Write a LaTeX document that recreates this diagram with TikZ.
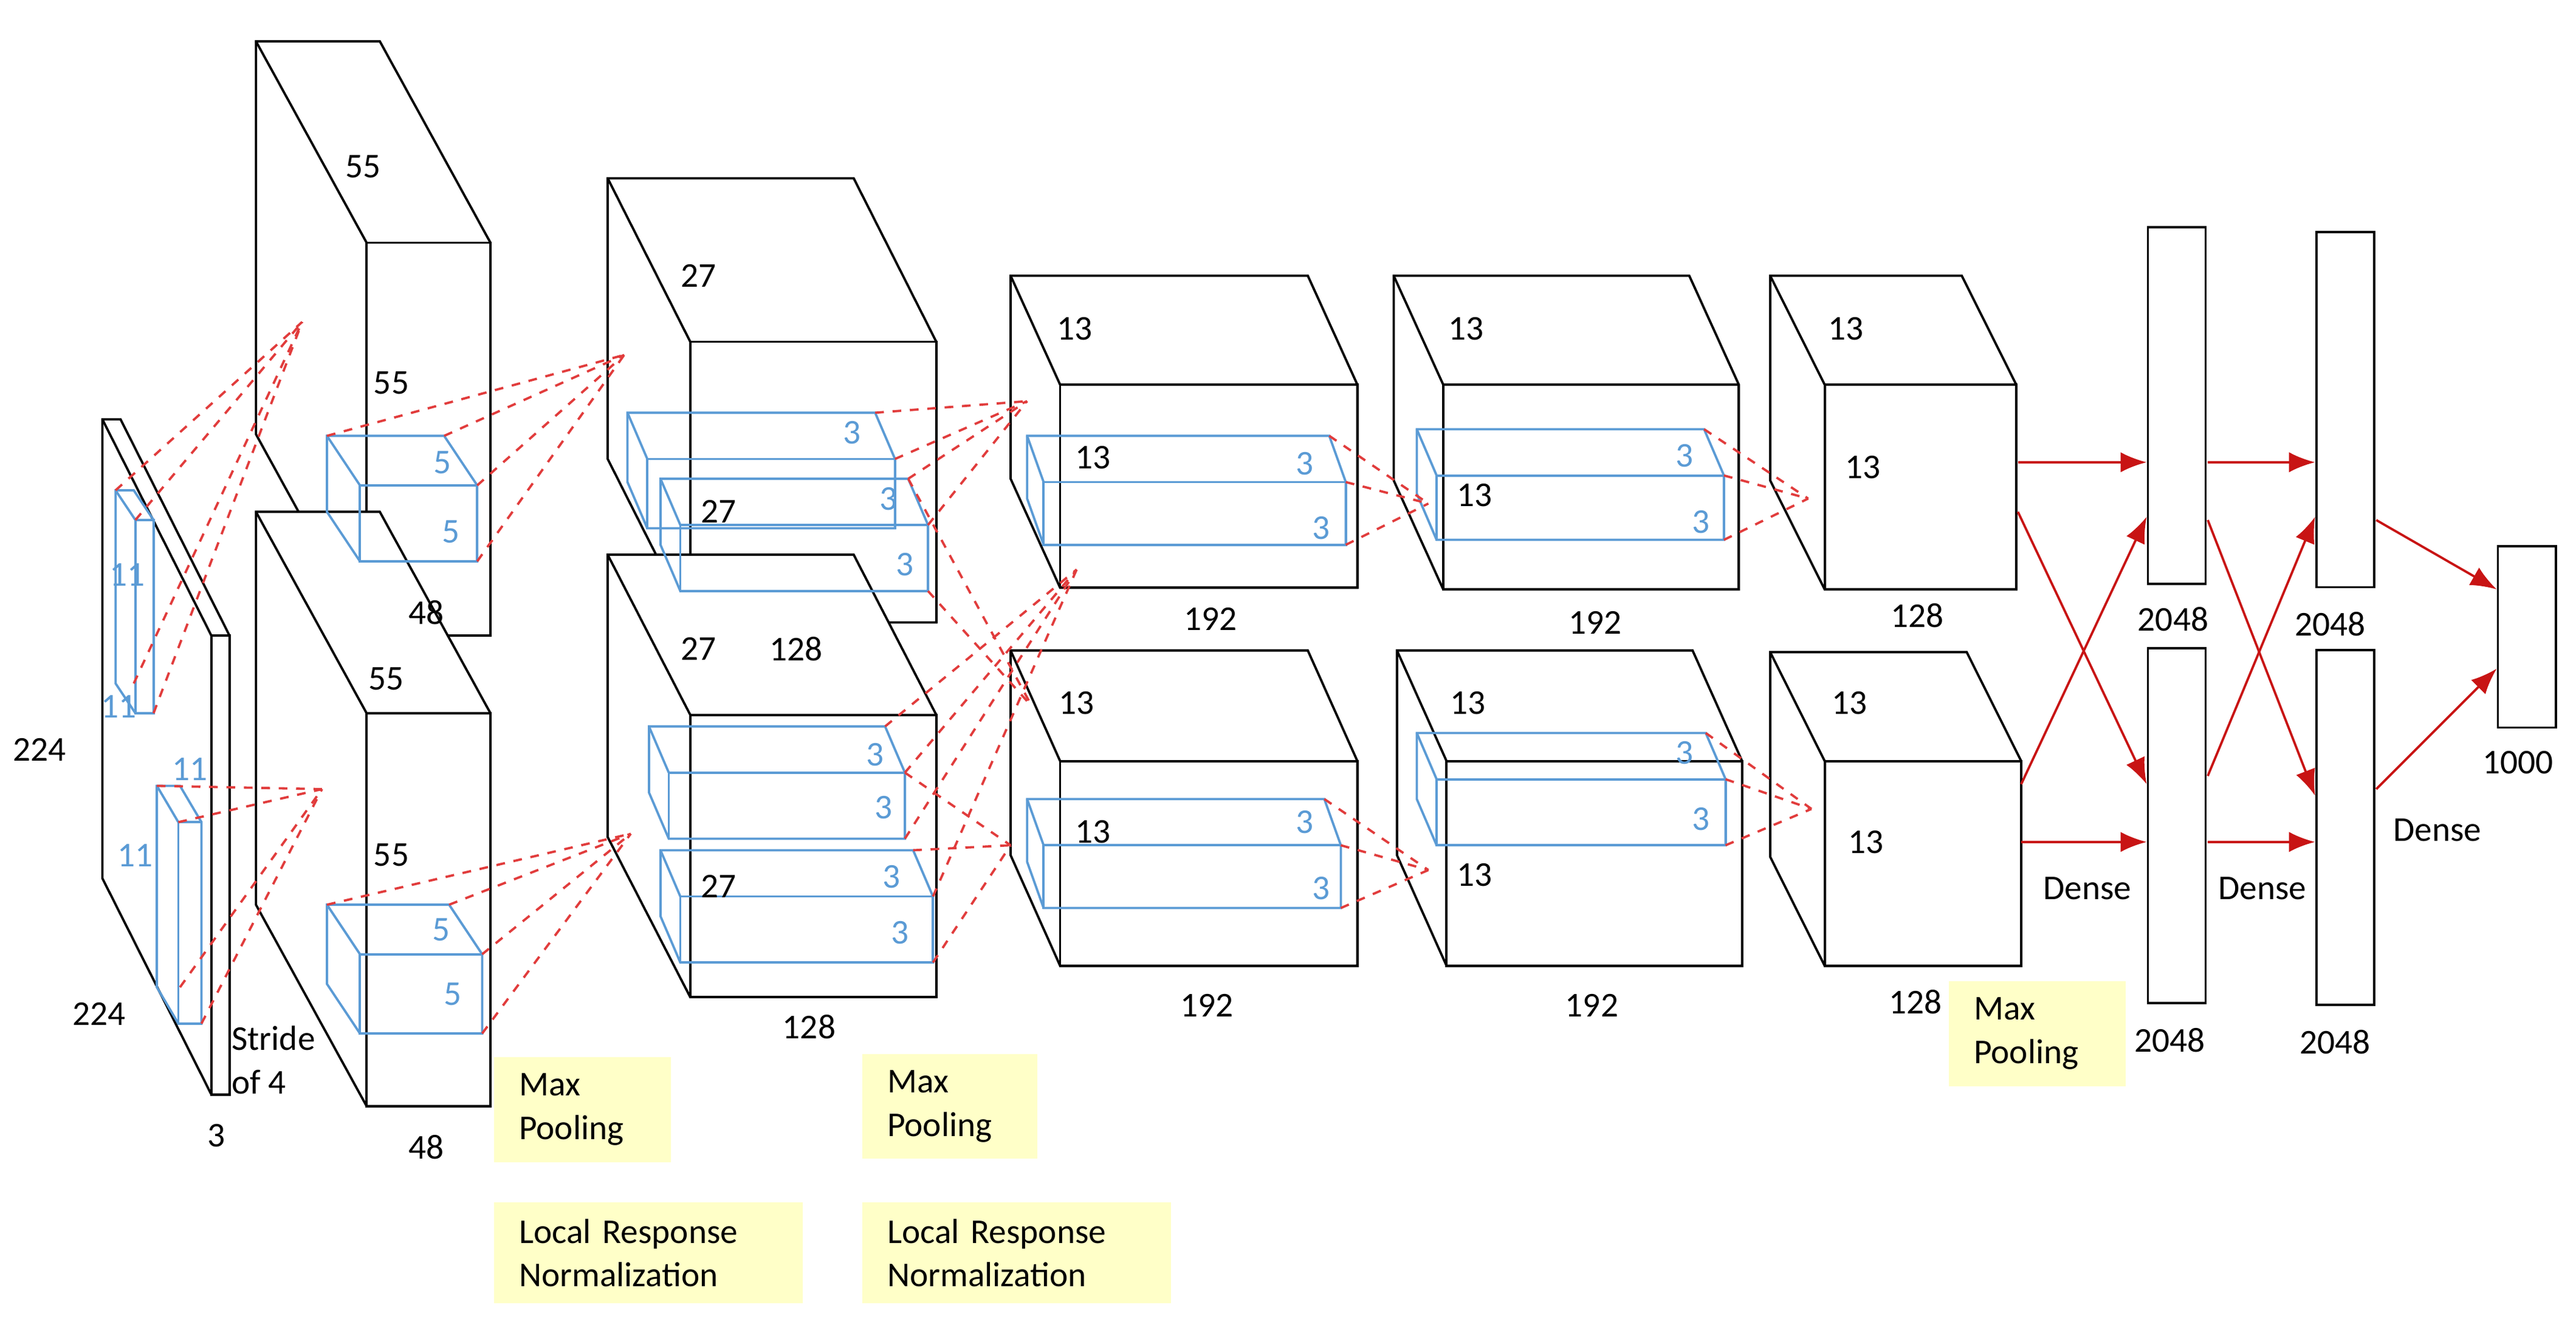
\documentclass[tikz,border=0pt]{standalone}
\usepackage{fontspec}
\setmainfont{Carlito}
\usetikzlibrary{arrows.meta}
\definecolor{kb}{RGB}{91,155,213}
\definecolor{dr}{RGB}{225,60,60}
\definecolor{ar}{RGB}{200,20,20}
\definecolor{yl}{RGB}{255,255,200}
\newcommand{\cube}[7]{%
 \path[#7,fill=white] (#1+#5,#2+#6) -- (#3+#5,#2+#6) -- (#3,#2) -- (#3,#4) -- (#1,#4) -- (#1+#5,#4+#6) -- cycle;
 \draw[#7] (#1+#5,#2+#6) -- (#3+#5,#2+#6) -- (#3,#2) -- (#3,#4) -- (#1,#4) -- (#1+#5,#4+#6) -- cycle;
 \draw[#7] (#1,#2) rectangle (#3,#4); \draw[#7] (#1+#5,#2+#6) -- (#1,#2);}
\newcommand{\kcube}[6]{%
 \draw[kb,thick] (#1+#5,#2+#6) -- (#3+#5,#2+#6) -- (#3,#2) -- (#3,#4) -- (#1,#4) -- (#1+#5,#4+#6) -- cycle;
 \draw[kb,thick] (#1,#2) rectangle (#3,#4); \draw[kb,thick] (#1+#5,#2+#6) -- (#1,#2);}
\begin{document}
\begin{tikzpicture}[x=0.02cm,y=-0.02cm,font=\fontsize{12}{14}\selectfont,
 box/.style={black,thick},
 lab/.style={inner sep=0pt},
 klab/.style={inner sep=0pt,text=kb},
 rdash/.style={dr,thick,dashed},
 arr/.style={ar,thick,-{Latex[length=9pt,width=7pt]}},
 yb/.style={fill=yl,align=left,anchor=north west,inner xsep=0pt,inner ysep=0.2cm,text width=#1,font=\fontsize{12}{15}\selectfont}]
\useasboundingbox (0,0) rectangle (1560,809);
% main cubes
\cube{128}{385}{139}{663}{-66}{-131}{box}
\cube{222}{147}{297}{385}{-67}{-122}{box}
\cube{222}{432}{297}{670}{-67}{-122}{box}
\cube{418}{207}{567}{377}{-50}{-99}{box}
\cube{418}{433}{567}{604}{-50}{-97}{box}
\cube{642}{233}{822}{356}{-30}{-66}{box}
\cube{642}{461}{822}{585}{-30}{-67}{box}
\cube{874}{233}{1053}{357}{-30}{-66}{box}
\cube{876}{461}{1055}{585}{-30}{-67}{box}
\cube{1105}{233}{1221}{357}{-33}{-66}{box}
\cube{1105}{461}{1224}{585}{-33}{-66}{box}
% dense
\node[draw,thick,minimum width=0.7cm,minimum height=4.32cm,anchor=north west] (d1) at (1300,137) {};
\node[draw,thick,minimum width=0.7cm,minimum height=4.3cm,anchor=north west] (d2) at (1300,392) {};
\node[draw,thick,minimum width=0.7cm,minimum height=4.3cm,anchor=north west] (d3) at (1402,140) {};
\node[draw,thick,minimum width=0.7cm,minimum height=4.3cm,anchor=north west] (d4) at (1402,393) {};
\node[draw,thick,minimum width=0.7cm,minimum height=2.2cm,anchor=north west] (d5) at (1512,330) {};
% kernels
\kcube{82}{315}{93}{432}{-12}{-18}
\kcube{108}{498}{122}{620}{-13}{-22}
\kcube{218}{294}{289}{340}{-20}{-30}
\kcube{218}{578}{292}{626}{-20}{-30}
\kcube{392}{278}{542}{320}{-12}{-28}
\kcube{412}{318}{562}{358}{-12}{-28}
\kcube{405}{468}{548}{508}{-12}{-28}
\kcube{412}{543}{565}{583}{-12}{-28}
\kcube{632}{292}{815}{330}{-10}{-28}
\kcube{632}{512}{812}{550}{-10}{-28}
\kcube{870}{288}{1044}{327}{-12}{-28}
\kcube{870}{472}{1045}{512}{-12}{-28}
% dashed connections
\coordinate (p1) at (183,195); \coordinate (p2) at (195,478);
\coordinate (p3) at (378,215); \coordinate (p4) at (382,505);
\coordinate (p5) at (622,243); \coordinate (p6) at (652,345);
\coordinate (p7) at (625,428); \coordinate (p8) at (612,512);
\coordinate (p9) at (865,305); \coordinate (p10) at (865,527);
\coordinate (p11) at (1095,302); \coordinate (p12) at (1097,490);
\foreach \a in {(70,297),(82,315),(93,432),(81,414)} \draw[rdash] \a -- (p1);
\foreach \a in {(95,476),(108,498),(122,620),(109,598)} \draw[rdash] \a -- (p2);
\foreach \a in {(198,264),(269,264),(289,294),(289,340)} \draw[rdash] \a -- (p3);
\foreach \a in {(198,548),(272,548),(292,578),(292,626)} \draw[rdash] \a -- (p4);
\foreach \a in {(530,250),(542,278)} \draw[rdash] \a -- (p5);
\foreach \a in {(550,290),(562,318)} \draw[rdash] \a -- (p5);
\foreach \a in {(550,290),(562,358)} \draw[rdash] \a -- (p7);
\foreach \a in {(536,440),(548,468)} \draw[rdash] \a -- (p6);
\foreach \a in {(548,508),(565,543)} \draw[rdash] \a -- (p6);
\foreach \a in {(553,515),(565,583),(548,468)} \draw[rdash] \a -- (p8);
\foreach \a in {(805,264),(815,292),(815,330)} \draw[rdash] \a -- (p9);
\foreach \a in {(802,484),(812,512),(812,550)} \draw[rdash] \a -- (p10);
\foreach \a in {(1032,260),(1044,288),(1044,327)} \draw[rdash] \a -- (p11);
\foreach \a in {(1033,444),(1045,472),(1045,512)} \draw[rdash] \a -- (p12);
% arrows
\coordinate (a1) at (1222,280); \coordinate (a2) at (1222,310);
\coordinate (a3) at (1224,475); \coordinate (a4) at (1224,510);
\coordinate (b1) at (1337,280); \coordinate (b2) at (1337,315);
\coordinate (b3) at (1337,470); \coordinate (b4) at (1337,510);
\coordinate (c1) at (1439,315); \coordinate (c2) at (1439,478);
\draw[arr] (a1) -- (d1.west|-a1);
\draw[arr] (a2) -- (1300,475);
\draw[arr] (a3) -- (1300,313);
\draw[arr] (a4) -- (d2.west|-a4);
\draw[arr] (b1) -- (d3.west|-b1);
\draw[arr] (b2) -- (1402,482);
\draw[arr] (b3) -- (1402,313);
\draw[arr] (b4) -- (d4.west|-b4);
\draw[arr] (c1) -- (1512,357);
\draw[arr] (c2) -- (1512,405);
% labels
\node[lab] (t1) at (220,101) {55}; \node[lab] (t2) at (237,232) {55};
\node[lab] (t3) at (258,371) {48}; \node[lab] (t4) at (234,411) {55};
\node[lab] (t5) at (237,518) {55}; \node[lab] (t6) at (258,695) {48};
\node[lab] (t7) at (24,454) {224}; \node[lab] (t8) at (60,614) {224};
\node[lab] (t9) at (131,688) {3};
\node[lab,align=left,anchor=west,font=\fontsize{12}{15}\selectfont] (t10) at (140,642) {Stride\\of 4};
\node[lab] (t11) at (423,167) {27}; \node[lab] (t12) at (423,393) {27};
\node[lab] (t13) at (482,393) {128}; \node[lab] (t14) at (490,622) {128};
\node[lab] (t15) at (435,310) {27}; \node[lab] (t16) at (435,537) {27};
\node[lab] (t17) at (651,199) {13}; \node[lab] (t18) at (733,375) {192};
\node[lab] (t19) at (652,426) {13}; \node[lab] (t20) at (731,609) {192};
\node[lab] (t21) at (888,199) {13}; \node[lab] (t22) at (966,377) {192};
\node[lab] (t23) at (889,426) {13}; \node[lab] (t24) at (964,609) {192};
\node[lab] (t25) at (1118,199) {13}; \node[lab] (t26) at (1128,283) {13};
\node[lab] (t27) at (1161,373) {128}; \node[lab] (t28) at (1120,426) {13};
\node[lab] (t29) at (1130,510) {13}; \node[lab] (t30) at (1160,607) {128};
\node[lab] (t31) at (662,277) {13}; \node[lab] (t32) at (662,504) {13};
\node[lab] (t33) at (893,300) {13}; \node[lab] (t34) at (893,530) {13};
\node[lab] (t35) at (1316,375) {2048}; \node[lab] (t36) at (1411,378) {2048};
\node[lab] (t37) at (1314,630) {2048}; \node[lab] (t38) at (1414,631) {2048};
\node[lab] (t39) at (1525,462) {1000};
\node[lab] (t40) at (1264,538) {Dense}; \node[lab] (t41) at (1370,538) {Dense};
\node[lab] (t42) at (1476,503) {Dense};
% kernel labels
\node[klab] (k1) at (77,348) {11}; \node[klab] (k2) at (72,428) {11};
\node[klab] (k3) at (115,466) {11}; \node[klab] (k4) at (82,518) {11};
\node[klab] (k5) at (268,280) {5}; \node[klab] (k6) at (273,322) {5};
\node[klab] (k7) at (267,563) {5}; \node[klab] (k8) at (274,602) {5};
\node[klab] (k9) at (516,262) {3}; \node[klab] (k10) at (538,302) {3};
\node[klab] (k11) at (548,342) {3};
\node[klab] (k12) at (530,457) {3}; \node[klab] (k13) at (535,489) {3};
\node[klab] (k14) at (540,531) {3}; \node[klab] (k15) at (545,565) {3};
\node[klab] (k16) at (790,281) {3}; \node[klab] (k17) at (800,320) {3};
\node[klab] (k18) at (790,498) {3}; \node[klab] (k19) at (800,538) {3};
\node[klab] (k20) at (1020,276) {3}; \node[klab] (k21) at (1030,316) {3};
\node[klab] (k22) at (1020,456) {3}; \node[klab] (k23) at (1030,496) {3};
% yellow notes
\node[yb=2.14cm] (y1) at (299,640) {\hspace*{0.3cm}Max\\\hspace*{0.3cm}Pooling};
\node[yb=3.74cm] (y2) at (299,728) {\hspace*{0.3cm}Local Response\\\hspace*{0.3cm}Normalization};
\node[yb=2.12cm] (y3) at (522,638) {\hspace*{0.3cm}Max\\\hspace*{0.3cm}Pooling};
\node[yb=3.74cm] (y4) at (522,728) {\hspace*{0.3cm}Local Response\\\hspace*{0.3cm}Normalization};
\node[yb=2.14cm] (y5) at (1180,594) {\hspace*{0.3cm}Max\\\hspace*{0.3cm}Pooling};
\end{tikzpicture}
\end{document}
